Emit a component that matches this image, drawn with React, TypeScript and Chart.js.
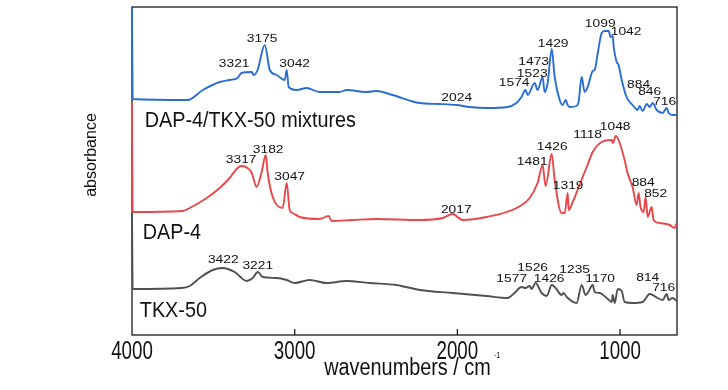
import React, { useEffect, useRef } from "react";
import { Chart, registerables } from "chart.js";

Chart.register(...registerables);

// ---- Data (wavenumber in cm^-1, absorbance in arbitrary offset units) ----
const mixWn = [4000,3996,3658,3565,3461,3400,3351,3327,3264,3252,3228,3184,3153,3111,3061,3049,3037,2988,2927,2847,2724,2681,2558,2497,2398,2232,2109,2005,1925,1821,1692,1637,1606,1581,1568,1525,1507,1476,1464,1445,1420,1402,1371,1353,1334,1322,1310,1267,1255,1236,1218,1199,1168,1156,1137,1113,1094,1070,1058,1045,1039,1021,1009,990,960,923,892,880,861,836,818,800,775,738,714,701,677,652];
const mixAbs = [327,236,235,245,253,255,257,262,263,260,265,290,265,260,255,265,248,245,247,243,243,245,243,244,240,232,231,230,228,227,228,232,238,245,240,252,245,258,243,252,286,258,235,230,235,230,228,229,233,258,243,248,264,265,282,302,304,304,298,299,288,273,270,255,238,230,225,229,224,231,228,232,225,222,227,222,220,220];

const dapWn = [4000,3996,3688,3645,3541,3461,3400,3351,3327,3290,3264,3234,3203,3178,3166,3135,3074,3049,3031,3012,2969,2847,2791,2773,2644,2496,2232,2091,2029,1968,1821,1636,1556,1507,1476,1458,1420,1402,1359,1340,1322,1316,1291,1230,1205,1168,1113,1051,1045,1026,1009,972,954,923,898,886,874,855,843,830,806,794,757,695,665,652];
const dapAbs = [232,123,124,127,137,147,157,167,169,167,162,148,163,180,162,138,127,152,125,122,118,116,119,114,115,116,115,117,121,115,118,127,137,152,170,149,181,155,122,122,142,125,133,158,168,183,193,195,192,199,195,175,162,148,130,142,128,123,138,118,128,115,112,110,107,112];

const tkxWn = [4000,3996,3695,3645,3584,3504,3443,3369,3295,3258,3227,3197,3111,3049,3000,2908,2804,2681,2540,2374,2232,2029,1821,1692,1649,1606,1581,1556,1544,1519,1482,1451,1420,1396,1359,1347,1328,1267,1236,1212,1199,1168,1156,1125,1082,1051,1045,1033,1014,990,972,923,861,818,769,738,714,701,677,652];
const tkxAbs = [122,46,47,49,57,65,67,63,54,57,63,58,57,55,52,55,52,54,52,50,45,42,39,37,42,48,47,49,46,52,42,39,50,47,40,42,38,32,50,40,42,50,43,42,37,33,40,32,46,44,33,32,33,41,37,35,41,35,37,34];

const xTicks = [4000, 3000, 2000, 1000];

// peak labels: [text, wavenumber, absorbance]
const mixPeaks: [string, number, number][] = [
  ["3175", 3200, 296], ["3321", 3372, 271.5], ["3042", 3000, 271.5], ["2024", 2004, 237],
  ["1574", 1651, 252], ["1523", 1540, 261], ["1473", 1531, 273], ["1429", 1411, 291],
  ["1099", 1122, 311], ["1042", 963, 303], ["884", 886, 250.5], ["846", 818, 243], ["716", 726, 233.5],
];
const dapPeaks: [string, number, number][] = [
  ["3317", 3329, 175], ["3182", 3163, 185], ["3047", 3031, 158], ["2017", 2007, 125],
  ["1481", 1540, 173], ["1426", 1417, 188.5], ["1319", 1319, 149], ["1118", 1199, 200],
  ["1048", 1030, 208.5], ["884", 858, 152], ["852", 781, 141],
];
const tkxPeaks: [string, number, number][] = [
  ["3422", 3439, 75.5], ["3221", 3227, 69], ["1577", 1666, 56], ["1526", 1537, 67],
  ["1426", 1436, 56], ["1235", 1279, 65], ["1170", 1122, 56], ["814", 830, 57.5], ["716", 732, 47.5],
];

// series names: [text, wavenumber, absorbance (baseline)]
const seriesLabels: [string, number, number][] = [
  ["DAP-4/TKX-50 mixtures", 3922, 208],
  ["DAP-4", 3934, 96],
  ["TKX-50", 3952, 18],
];

const FONT = '"Liberation Sans", Arial, Helvetica, sans-serif';

function drawText(ctx: CanvasRenderingContext2D, text: string, x: number, y: number, size: number, sx: number, align: CanvasTextAlign, baseline: CanvasTextBaseline) {
  ctx.save();
  ctx.font = `${size}px ${FONT}`;
  ctx.translate(x, y);
  ctx.scale(sx, 1);
  ctx.textAlign = align;
  ctx.textBaseline = baseline;
  ctx.fillStyle = "#111";
  ctx.fillText(text, 0, 0);
  ctx.restore();
}

const framePlugin = {
  id: "frame",
  beforeDatasetsDraw(chart: any) {
    const { ctx, chartArea: a, scales } = chart;
    ctx.save();
    ctx.strokeStyle = "#1a1a1a";
    ctx.lineWidth = 1.3;
    ctx.strokeRect(a.left, a.top, a.right - a.left, a.bottom - a.top);
    ctx.beginPath();
    for (const v of xTicks) {
      const px = scales.x.getPixelForValue(v);
      if (px <= a.left + 1 || px >= a.right - 1) continue;
      ctx.moveTo(px, a.bottom);
      ctx.lineTo(px, a.bottom - 6);
    }
    ctx.stroke();
    ctx.restore();
  },
  afterDatasetsDraw(chart: any) {
    const { ctx, chartArea: a, scales } = chart;
    const xs = scales.x, ys = scales.y;
    // tick labels
    for (const v of xTicks) {
      drawText(ctx, String(v), xs.getPixelForValue(v), a.bottom + 24, 25, 0.75, "center", "alphabetic");
    }
    // x title
    const cx = (a.left + a.right) / 2;
    ctx.save();
    ctx.font = `23.5px ${FONT}`;
    const mainW = ctx.measureText("wavenumbers / cm").width * 0.845;
    ctx.restore();
    const startX = cx - mainW / 2 + 3;
    drawText(ctx, "wavenumbers / cm", startX, a.bottom + 40, 23.5, 0.845, "left", "alphabetic");
    drawText(ctx, "-1", startX + mainW + 3, a.bottom + 23, 9, 0.8, "left", "alphabetic");
    // y title
    ctx.save();
    ctx.translate(a.left - 40, a.top + 148);
    ctx.rotate(-Math.PI / 2);
    ctx.font = `16px ${FONT}`;
    ctx.fillStyle = "#111";
    ctx.textAlign = "center";
    ctx.textBaseline = "middle";
    ctx.fillText("absorbance", 0, 0);
    ctx.restore();
    // peak labels
    for (const list of [mixPeaks, dapPeaks, tkxPeaks]) {
      for (const [t, wn, ab] of list) {
        drawText(ctx, t, xs.getPixelForValue(wn), ys.getPixelForValue(ab), 11.5, 1.2, "center", "middle");
      }
    }
    // series labels
    for (const [t, wn, ab] of seriesLabels) {
      drawText(ctx, t, xs.getPixelForValue(wn), ys.getPixelForValue(ab), 22, 0.9, "left", "alphabetic");
    }
  },
};

export default function App() {
  const ref = useRef<HTMLCanvasElement | null>(null);
  useEffect(() => {
    if (!ref.current) return;
    const mk = (wn: number[], ab: number[]) => wn.map((x, i) => ({ x, y: ab[i] }));
    const ds = (label: string, wn: number[], ab: number[], color: string) => ({
      label,
      data: mk(wn, ab),
      borderColor: color,
      borderWidth: 1.9,
      pointRadius: 0,
      cubicInterpolationMode: "monotone" as const,
      fill: false,
      clip: false as any,
    });
    const chart = new Chart(ref.current, {
      type: "line",
      data: {
        datasets: [
          ds("DAP-4/TKX-50 mixtures", mixWn, mixAbs, "#2a6dd2"),
          ds("DAP-4", dapWn, dapAbs, "#e8474b"),
          ds("TKX-50", tkxWn, tkxAbs, "#505050"),
        ],
      },
      options: {
        animation: false,
        responsive: false,
        maintainAspectRatio: false,
        layout: { padding: { left: 132, right: 51, top: 7, bottom: 55 } },
        plugins: { legend: { display: false }, tooltip: { enabled: false } },
        scales: {
          x: { type: "linear", min: 650, max: 4000, reverse: true, display: false },
          y: { type: "linear", min: 0, max: 328, display: false },
        },
      },
      plugins: [framePlugin],
    });
    return () => chart.destroy();
  }, []);
  return (
    <div style={{ position: "fixed", left: 0, top: 0, width: 728, height: 390, background: "#fff" }}>
      <canvas ref={ref} width={728} height={390} style={{ width: 728, height: 390, display: "block" }} />
    </div>
  );
}
